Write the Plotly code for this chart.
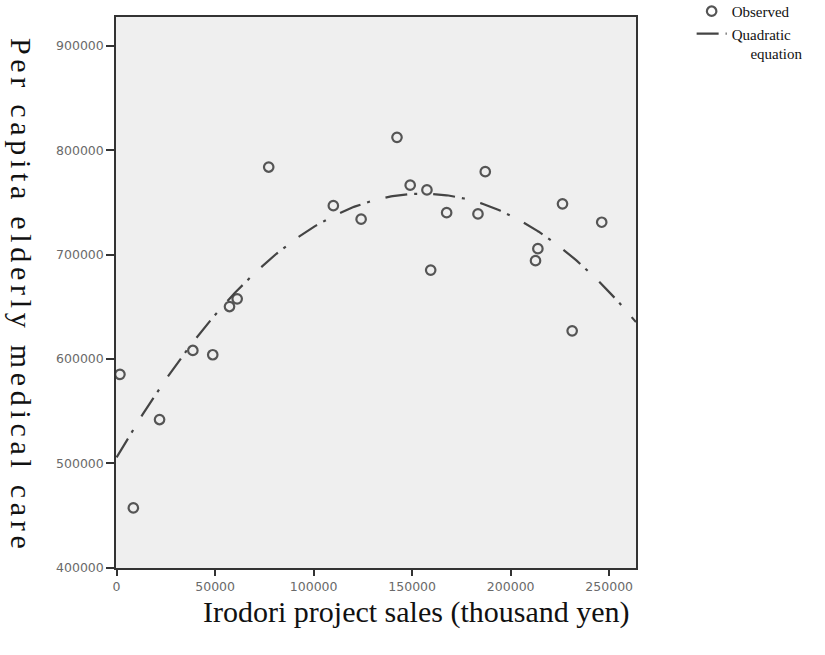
import numpy as np
import plotly.graph_objects as go

# Observed data (thousand yen, yen per capita)
sales = [1700, 8500, 21800, 38700, 48800, 57300, 61200, 77200, 110000, 124100,
         142300, 149000, 157500, 159400, 167500, 183400, 187100, 212600, 213800,
         226300, 231200, 246200]
medical = [585300, 457300, 542000, 608200, 604100, 650300, 657700, 784000, 747000, 734000,
           812500, 766600, 762100, 685200, 740300, 739100, 779600, 694300, 705800,
           748700, 627000, 731100]

# Quadratic equation coefficients
q_const = 505700.0
q_lin = 3.2568
q_quad = -1.04891e-5
curve_x = np.linspace(0, 263600, 300)
curve_y = q_const + q_lin * curve_x + q_quad * curve_x ** 2

x_ticks = [0, 50000, 100000, 150000, 200000, 250000]
y_ticks = [400000, 500000, 600000, 700000, 800000, 900000]

fig = go.Figure()
fig.add_trace(go.Scatter(
    x=sales, y=medical, mode="markers", name="Observed",
    marker=dict(symbol="circle-open", size=9.5, color="#555555", line=dict(width=2.2, color="#555555")),
))
fig.add_trace(go.Scatter(
    x=curve_x, y=curve_y, mode="lines", name="Quadratic<br>     equation",
    line=dict(color="#444444", width=2.2, dash="22px,7px,3px,16px"),
))

tickfont = dict(family="DejaVu Sans", size=12.5, color="#6a6a6a")
fig.update_layout(
    width=825, height=655,
    margin=dict(l=116, r=189, t=17, b=87, autoexpand=False),
    paper_bgcolor="white",
    plot_bgcolor="#efefef",
    showlegend=True,
    legend=dict(x=1.107, y=1.040, xanchor="left", yanchor="top", valign="top",
                font=dict(family="Liberation Serif", size=15, color="#111"),
                bgcolor="rgba(0,0,0,0)", tracegroupgap=0, itemwidth=30),
    xaxis=dict(range=[-300, 263600], tickvals=x_ticks, ticktext=[str(v) for v in x_ticks],
               showgrid=False, zeroline=False, showline=True, linecolor="#333", linewidth=1.5,
               mirror=True, ticks="outside", ticklen=6, tickwidth=1.5, tickcolor="#333",
               tickfont=tickfont),
    yaxis=dict(range=[399700, 927800], tickvals=y_ticks, ticktext=[str(v) for v in y_ticks],
               showgrid=False, zeroline=False, showline=True, linecolor="#333", linewidth=1.5,
               mirror=True, ticks="outside", ticklen=8, tickwidth=1.5, tickcolor="#333",
               tickfont=tickfont),
    annotations=[
        dict(text="Irodori project sales (thousand yen)", xref="paper", yref="paper",
             x=0.577, y=-0.0445, xanchor="center", yanchor="top", showarrow=False,
             font=dict(family="Liberation Serif", size=30, color="#111")),
        dict(text='<span style="letter-spacing:4.7px">Per capita elderly medical care</span>',
             xref="paper", yref="paper",
             x=-0.183, y=0.494, xanchor="center", yanchor="middle", showarrow=False,
             textangle=90, font=dict(family="Liberation Serif", size=30, color="#111")),
    ],
)

fig.write_html("out.html")
